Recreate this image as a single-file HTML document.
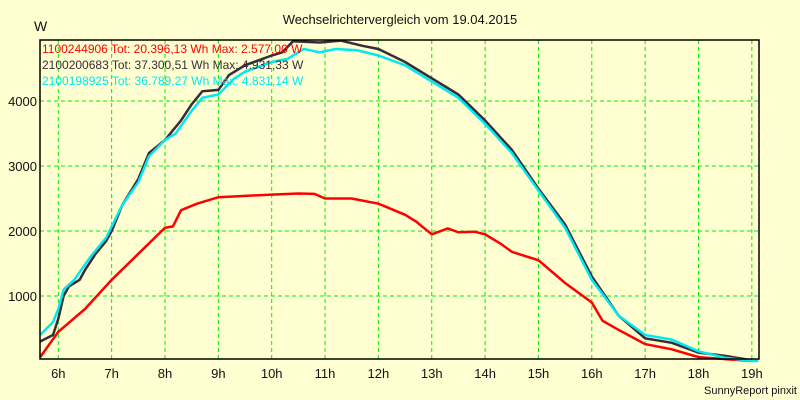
<!DOCTYPE html>
<html><head><meta charset="utf-8"><style>
body{margin:0;background:#ffffd2;}
svg{display:block;font-family:"Liberation Sans",sans-serif;}
</style></head><body>
<svg id="chart" width="800" height="400">
<rect x="0" y="0" width="800" height="400" fill="#ffffd2"/>
<text x="400" y="24" text-anchor="middle" font-size="13" fill="#111">Wechselrichtervergleich vom 19.04.2015</text>
<text x="34" y="31" font-size="14" fill="#111">W</text>
<g id="grid"></g>
<g id="series"></g>
<rect x="40" y="40" width="719" height="319" fill="none" stroke="#000" stroke-width="1.5"/>
<g id="axes"></g>
<text x="42" y="53" font-size="12" fill="#ff0000">1100244906 Tot: 20.396,13 Wh Max: 2.577,00 W</text>
<text x="42" y="69" font-size="12" fill="#3a2a3a">2100200683 Tot: 37.300,51 Wh Max: 4.931,33 W</text>
<text x="42" y="85" font-size="12" fill="#00e8f0">2100198925 Tot: 36.789,27 Wh Max: 4.831,14 W</text>
<text x="797" y="394" text-anchor="end" font-size="11" fill="#111">SunnyReport pinxit</text>
</svg>
<script>
const xTicks=[6,7,8,9,10,11,12,13,14,15,16,17,18,19];
const yTicks=[1000,2000,3000,4000];
const redH=[5.66,6,6.5,7,7.5,8,8.15,8.3,8.6,9,9.5,10,10.5,10.8,11,11.5,12,12.5,12.7,13,13.3,13.5,13.8,14,14.3,14.5,15,15.5,16,16.2,16.5,17,17.5,18,18.5,19];
const redV=[60,450,800,1250,1650,2050,2070,2320,2420,2520,2540,2560,2577,2570,2500,2500,2420,2250,2150,1950,2040,1980,1990,1950,1800,1680,1550,1200,900,620,480,260,180,60,30,0];
const darkH=[5.66,5.9,6,6.1,6.2,6.4,6.5,6.7,6.9,7,7.2,7.5,7.7,8,8.3,8.5,8.7,9,9.2,9.5,10,10.2,10.4,10.9,11.3,11.7,12,12.5,13,13.5,14,14.5,15,15.5,16,16.5,17,17.5,18,18.5,19];
const darkV=[300,400,650,1000,1150,1250,1400,1650,1850,2000,2400,2800,3200,3400,3700,3950,4150,4170,4400,4550,4700,4750,4920,4900,4930,4850,4800,4600,4350,4100,3700,3250,2650,2100,1300,700,350,280,130,80,10];
const cyanH=[5.66,5.9,6,6.1,6.3,6.6,6.9,7.2,7.5,7.7,8,8.2,8.5,8.7,9,9.3,9.5,10,10.3,10.6,10.9,11.2,11.6,12,12.5,13,13.5,14,14.5,15,15.5,16,16.5,17,17.5,18,18.5,19,19.12];
const cyanV=[400,600,800,1100,1250,1600,1900,2400,2750,3150,3400,3500,3850,4050,4100,4350,4450,4600,4650,4800,4750,4800,4780,4700,4550,4300,4050,3650,3200,2620,2050,1250,700,400,330,150,50,0,0];
const X=h=>58.3+(h-6)*53.35;
const Y=v=>361-v*0.065;
const NS="http://www.w3.org/2000/svg";
const grid=document.getElementById('grid'),axes=document.getElementById('axes'),ser=document.getElementById('series');
xTicks.forEach(h=>{
 const l=document.createElementNS(NS,'line');
 l.setAttribute('x1',X(h));l.setAttribute('x2',X(h));l.setAttribute('y1',40);l.setAttribute('y2',359);
 l.setAttribute('stroke','#00ee00');l.setAttribute('stroke-dasharray','4,3');
 
 
 grid.appendChild(l);
 const t=document.createElementNS(NS,'text');
 t.setAttribute('x',X(h));t.setAttribute('y',378);t.setAttribute('text-anchor','middle');t.setAttribute('font-size','13');t.setAttribute('fill','#111');
 t.textContent=h+'h';
 
 
 axes.appendChild(t);
});
yTicks.forEach(v=>{
 const l=document.createElementNS(NS,'line');
 l.setAttribute('x1',40);l.setAttribute('x2',759);l.setAttribute('y1',Y(v));l.setAttribute('y2',Y(v));
 l.setAttribute('stroke','#00ee00');l.setAttribute('stroke-dasharray','4,3');
 
 
 grid.appendChild(l);
 const t=document.createElementNS(NS,'text');
 t.setAttribute('x',37);t.setAttribute('y',Y(v)+5);t.setAttribute('text-anchor','end');t.setAttribute('font-size','13');t.setAttribute('fill','#111');
 t.textContent=v;
 
 
 axes.appendChild(t);
});
function line(hs,vs,color,name){
 const p=document.createElementNS(NS,'polyline');
 p.setAttribute('points',hs.map((h,i)=>X(h).toFixed(1)+','+Y(vs[i]).toFixed(1)).join(' '));
 p.setAttribute('fill','none');p.setAttribute('stroke',color);p.setAttribute('stroke-width','2.5');
 
 
 ser.appendChild(p);
}
line(redH,redV,'#ff0000','series-1100244906');
line(darkH,darkV,'#3a2a3a','series-2100200683');
line(cyanH,cyanV,'#00e8f0','series-2100198925');
</script>
</body></html>
